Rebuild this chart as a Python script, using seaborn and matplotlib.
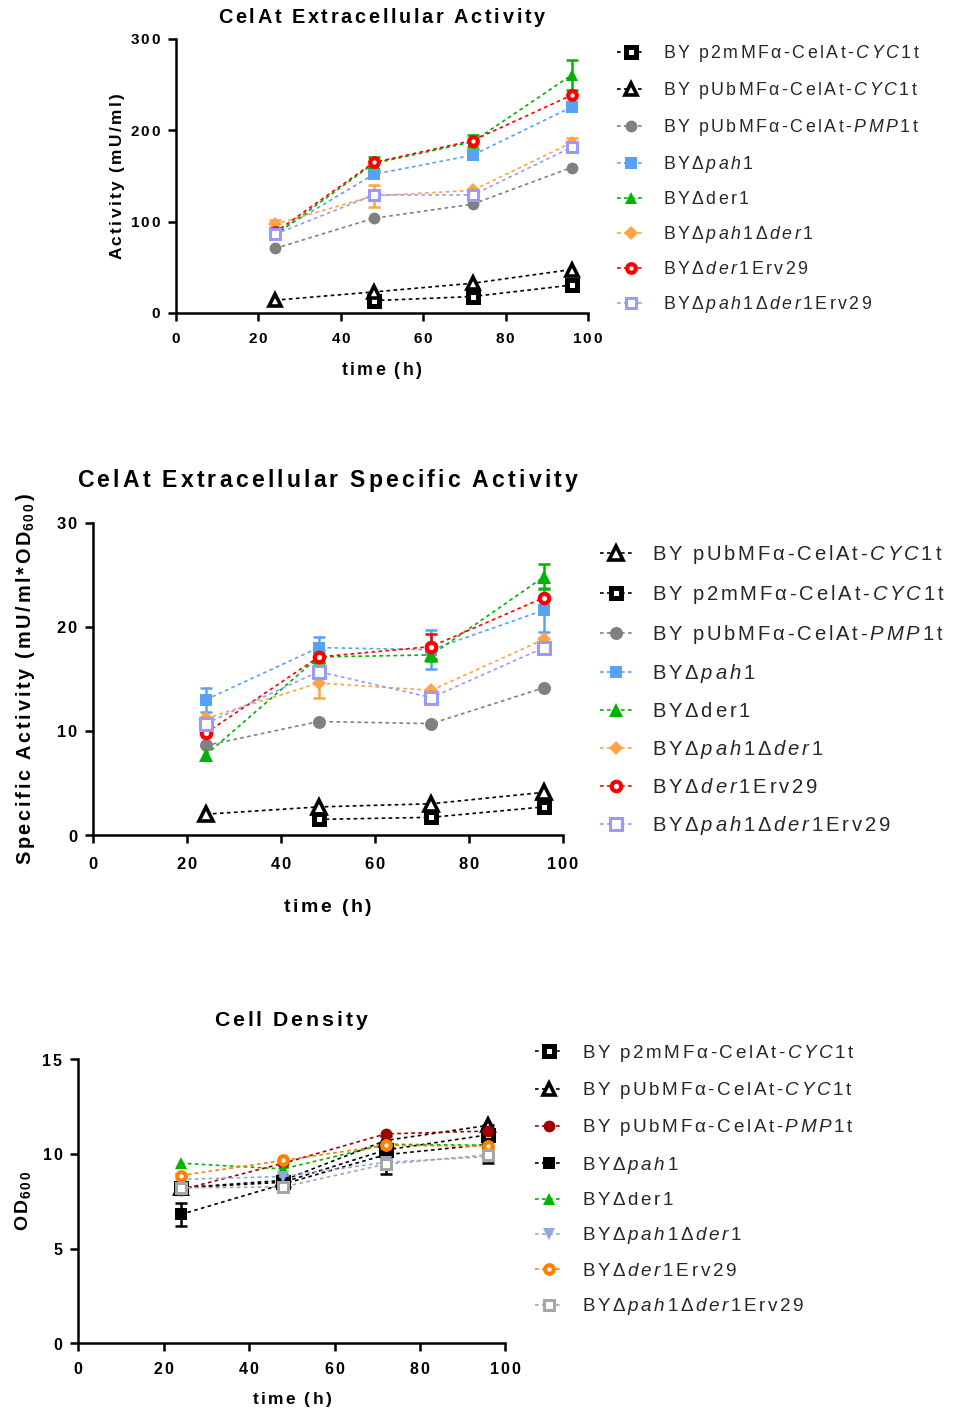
import numpy as np
import matplotlib
matplotlib.use("Agg")
import matplotlib.pyplot as plt
from matplotlib.ticker import FuncFormatter, FixedLocator
import seaborn as sns

# ---------------------------------------------------------------- data
TIME = [24, 48, 72, 96]
nan = np.nan

# Extracellular activity (mU/ml)
act_p2m_cyc1 = [nan, 13.5, 18.0, 30.5]
act_pub_cyc1 = [14.0, 23.0, 32.5, 47.5]
act_pub_pmp1 = [70.5, 103.5, 119.0, 159.0]
act_pah1 = [87.0, 151.5, 172.5, 225.0]
act_der1 = [85.0, 163.5, 187.0, 260.0]
act_pah1_der1 = [97.0, 128.0, 134.0, 186.0]
act_der1_erv29 = [88.0, 164.5, 188.5, 238.0]
act_pah1_der1_erv29 = [86.0, 129.0, 129.0, 181.0]
act_err_der1 = [nan, 7.0, 8.0, 16.0]
act_err_pah1_der1 = [5.0, 12.0, nan, 5.5]

# Specific activity (mU/ml*OD600)
sa_p2m_cyc1 = [nan, 1.5, 1.7, 2.7]
sa_pub_cyc1 = [2.0, 2.7, 3.0, 4.1]
sa_pub_pmp1 = [8.6, 10.9, 10.7, 14.15]
sa_pah1 = [13.0, 18.0, 17.8, 21.6]
sa_der1 = [7.7, 17.1, 17.3, 24.8]
sa_pah1_der1 = [11.2, 14.6, 13.9, 18.8]
sa_der1_erv29 = [9.8, 17.1, 18.1, 22.8]
sa_pah1_der1_erv29 = [10.7, 15.7, 13.2, 18.0]
sa_err_pah1 = [1.15, 1.0, 1.85, 2.1]
sa_err_der1 = [nan, 0.6, 0.6, 1.2]
sa_err_pah1_der1 = [nan, 1.45, nan, nan]
sa_err_der1_erv29 = [nan, nan, 1.2, nan]

# Cell density (OD600)
od_p2m_cyc1 = [8.2, 8.5, 10.2, 11.0]
od_pub_cyc1 = [8.2, 8.6, 10.7, 11.5]
od_pub_pmp1 = [8.1, 9.5, 11.05, 11.2]
od_pah1 = [6.8, 8.4, 9.95, 10.5]
od_der1 = [9.5, 9.2, 10.5, 10.45]
od_pah1_der1 = [8.65, 8.8, 9.55, 9.85]
od_der1_erv29 = [8.85, 9.65, 10.45, 10.4]
od_pah1_der1_erv29 = [8.2, 8.25, 9.45, 9.95]
od_err_pah1 = [0.6, 0.4, 1.0, 1.0]

X_TICKS = [0, 20, 40, 60, 80, 100]
Y_TICKS_ACT = [0, 100, 200, 300]
Y_TICKS_SA = [0, 10, 20, 30]
Y_TICKS_OD = [0, 5, 10, 15]

# ---------------------------------------------------------------- style
sns.set_theme(style="ticks")
plt.rcParams.update({
    "font.family": ["Liberation Sans", "DejaVu Sans"],
    "mathtext.fontset": "custom",
    "mathtext.rm": "Liberation Sans",
    "mathtext.it": "Liberation Sans:italic",
    "mathtext.bf": "Liberation Sans:bold",
    "mathtext.bfit": "Liberation Sans:bold:italic",
    "axes.linewidth": 1.8,
    "axes.edgecolor": "black",
    "xtick.color": "black",
    "ytick.color": "black",
    "xtick.major.width": 1.8,
    "ytick.major.width": 1.8,
    "xtick.major.size": 6,
    "ytick.major.size": 6,
    "xtick.direction": "out",
    "ytick.direction": "out",
})


def tracked(parts):
    """Letter-spaced mathtext body from (text, font) pieces."""
    toks = []
    for text, font in parts:
        for ch in text:
            if ch == " ":
                toks.append(r"\;")
            elif ch == "-":
                toks.append(r"\text{-}")
            elif ch in "*/":
                toks.append(r"\math%s{{%s}}" % (font, ch))
            else:
                toks.append(r"\math%s{%s}" % (font, ch))
    return r"\,".join(toks)


def m(*parts):
    return "$" + tracked(parts) + "$"


LABELS = {
    "p2m_cyc1": m(("BY p2mMFα-CelAt-", "rm"), ("CYC1", "it"), ("t", "rm")),
    "pub_cyc1": m(("BY pUbMFα-CelAt-", "rm"), ("CYC1", "it"), ("t", "rm")),
    "pub_pmp1": m(("BY pUbMFα-CelAt-", "rm"), ("PMP1", "it"), ("t", "rm")),
    "pah1": m(("BYΔ", "rm"), ("pah1", "it")),
    "der1": m(("BYΔder", "rm"), ("1", "it")),
    "pah1_der1": m(("BYΔ", "rm"), ("pah1", "it"), ("Δ", "rm"), ("der1", "it")),
    "der1_erv29": m(("BYΔ", "rm"), ("der1", "it"), ("Erv29", "rm")),
    "pah1_der1_erv29": m(("BYΔ", "rm"), ("pah1", "it"), ("Δ", "rm"),
                         ("der1", "it"), ("Erv29", "rm")),
}

BLUE, GREEN, ORANGE, RED, LAV, GREY = "#57A2F7", "#00B300", "#FFA445", "#FF0000", "#9999FF", "#808080"

STYLE_A = {
    "p2m_cyc1": dict(color="black", marker="s", ms=6.8, mfc="white", mec="black", mew=3.6),
    "pub_cyc1": dict(color="black", marker="^", ms=9.0, mfc="white", mec="black", mew=2.6),
    "pub_pmp1": dict(color=GREY, marker="o", ms=8.5, mfc=GREY, mec=GREY, mew=0),
    "pah1": dict(color=BLUE, marker="s", ms=8.3, mfc=BLUE, mec=BLUE, mew=0),
    "der1": dict(color=GREEN, marker="^", ms=9.0, mfc=GREEN, mec=GREEN, mew=0),
    "pah1_der1": dict(color=ORANGE, marker="D", ms=6.8, mfc=ORANGE, mec=ORANGE, mew=0),
    "der1_erv29": dict(color=RED, marker="o", ms=6.2, mfc="white", mec=RED, mew=3.0),
    "pah1_der1_erv29": dict(color=LAV, marker="s", ms=7.2, mfc="white", mec=LAV, mew=2.2),
}

STYLE_C = {
    "p2m_cyc1": dict(color="black", marker="s", ms=6.8, mfc="white", mec="black", mew=3.6),
    "pub_cyc1": dict(color="black", marker="^", ms=9.0, mfc="white", mec="black", mew=2.6),
    "pub_pmp1": dict(color="#A00000", marker="o", ms=8.5, mfc="#A00000", mec="#A00000", mew=0),
    "pah1": dict(color="black", marker="s", ms=8.0, mfc="black", mec="black", mew=0),
    "der1": dict(color="#00B400", marker="^", ms=9.0, mfc="#00B400", mec="#00B400", mew=0),
    "pah1_der1": dict(color="#8DAADB", marker="v", ms=9.0, mfc="#8DAADB", mec="#8DAADB", mew=0),
    "der1_erv29": dict(color="#FF8000", marker="o", ms=6.2, mfc="white", mec="#FF8000", mew=3.0),
    "pah1_der1_erv29": dict(color="#A6A6A6", marker="s", ms=7.2, mfc="white", mec="#A6A6A6", mew=2.2),
}

W, H = 955, 1412
fig = plt.figure(figsize=(W / 100, H / 100), dpi=100)


def px_rect(left, top, right, bottom):
    return [left / W, 1 - bottom / H, (right - left) / W, (bottom - top) / H]


def tick_fmt(v, _pos):
    return m(("%g" % v, "bf"))


def panel(ax, series, errors, styles, order, yticks, title, title_fs, title_pad,
          ylabel, ylab_fs, xlab_fs, tick_fs, xtick_pad, ylab_x, xlab_y,
          leg_xy, leg_fs, leg_kw, scale=1.0):
    handles = []
    for key in order:
        st = styles[key]
        if key in errors:
            ax.errorbar(TIME, series[key], yerr=errors[key], fmt="none",
                        ecolor=st["color"], elinewidth=1.8, capsize=4.2 * scale,
                        capthick=1.8, zorder=2)
        sns.lineplot(x=TIME, y=series[key], ax=ax, errorbar=None,
                     color=st["color"], marker=st["marker"],
                     markersize=st["ms"] * scale, markerfacecolor=st["mfc"],
                     markeredgecolor=st["mec"], markeredgewidth=st["mew"],
                     linestyle=(0, (2.2, 2.0)), linewidth=1.2, zorder=3)
        line = ax.lines[-1]
        line.set_clip_on(False)
        handles.append(line)

    ax.set_xlim(0, 100)
    ax.set_ylim(yticks[0], yticks[-1])
    ax.xaxis.set_major_locator(FixedLocator(X_TICKS))
    ax.yaxis.set_major_locator(FixedLocator(yticks))
    ax.xaxis.set_major_formatter(FuncFormatter(tick_fmt))
    ax.yaxis.set_major_formatter(FuncFormatter(tick_fmt))
    ax.tick_params(axis="y", labelsize=tick_fs, pad=5)
    ax.tick_params(axis="x", labelsize=tick_fs, pad=xtick_pad)
    sns.despine(ax=ax)
    ax.set_facecolor("none")

    ax.set_title(title, fontsize=title_fs, pad=title_pad, color="black")
    ax.set_xlabel(m(("time (h)", "bf")), fontsize=xlab_fs, color="black")
    ax.set_ylabel(ylabel, fontsize=ylab_fs, color="black")
    ax.xaxis.set_label_coords(0.5, xlab_y)
    ax.yaxis.set_label_coords(ylab_x, 0.5)

    ax.legend(handles, [LABELS[k] for k in order], loc="upper left",
              bbox_to_anchor=(leg_xy[0] / W, 1 - leg_xy[1] / H),
              bbox_transform=fig.transFigure, frameon=False, numpoints=1,
              fontsize=leg_fs, borderpad=0, borderaxespad=0, **leg_kw)


ORDER_A = ["p2m_cyc1", "pub_cyc1", "pub_pmp1", "pah1", "der1",
           "pah1_der1", "der1_erv29", "pah1_der1_erv29"]
ORDER_B = ["pub_cyc1", "p2m_cyc1", "pub_pmp1", "pah1", "der1",
           "pah1_der1", "der1_erv29", "pah1_der1_erv29"]

act = dict(p2m_cyc1=act_p2m_cyc1, pub_cyc1=act_pub_cyc1, pub_pmp1=act_pub_pmp1,
           pah1=act_pah1, der1=act_der1, pah1_der1=act_pah1_der1,
           der1_erv29=act_der1_erv29, pah1_der1_erv29=act_pah1_der1_erv29)
sa = dict(p2m_cyc1=sa_p2m_cyc1, pub_cyc1=sa_pub_cyc1, pub_pmp1=sa_pub_pmp1,
          pah1=sa_pah1, der1=sa_der1, pah1_der1=sa_pah1_der1,
          der1_erv29=sa_der1_erv29, pah1_der1_erv29=sa_pah1_der1_erv29)
od = dict(p2m_cyc1=od_p2m_cyc1, pub_cyc1=od_pub_cyc1, pub_pmp1=od_pub_pmp1,
          pah1=od_pah1, der1=od_der1, pah1_der1=od_pah1_der1,
          der1_erv29=od_der1_erv29, pah1_der1_erv29=od_pah1_der1_erv29)

ax1 = fig.add_axes(px_rect(176, 38.5, 588, 313))
panel(ax1, act, {"der1": act_err_der1, "pah1_der1": act_err_pah1_der1},
      STYLE_A, ORDER_A, Y_TICKS_ACT,
      m(("CelAt Extracellular Activity", "bf")), 14.3, 11,
      m(("Activity (mU/ml)", "bf")), 12.4, 12.8, 11, 8, -0.12, -0.17,
      (617, 43), 12.8, dict(handlelength=1.6, handletextpad=1.0, labelspacing=0.9))

ax2 = fig.add_axes(px_rect(93.3, 522.7, 562.7, 835))
sa_label = ("$" + tracked([("Specific Activity (mU/ml*OD", "bf")]) + r"_{" +
            tracked([("600", "bf")]) + r"}\,\mathbf{)}$")
panel(ax2, sa, {"pah1": sa_err_pah1, "der1": sa_err_der1,
                "pah1_der1": sa_err_pah1_der1, "der1_erv29": sa_err_der1_erv29},
      STYLE_A, ORDER_B, Y_TICKS_SA,
      m(("CelAt Extracellular Specific Activity", "bf")), 16.6, 26,
      sa_label, 14.3, 14, 11.9, 9, -0.121, -0.20,
      (600, 543), 14.6, dict(handlelength=1.58, handletextpad=0.97, labelspacing=0.83),
      scale=1.1)

ax3 = fig.add_axes(px_rect(78.3, 1059, 505.3, 1343.3))
od_label = "$" + tracked([("OD", "bf")]) + r"_{" + tracked([("600", "bf")]) + "}$"
panel(ax3, od, {"pah1": od_err_pah1}, STYLE_C, ORDER_A, Y_TICKS_OD,
      m(("Cell Density", "bf")), 15.3, 24,
      od_label, 14, 12.5, 11.5, 7, -0.106, -0.165,
      (535, 1043), 13.6, dict(handlelength=1.5, handletextpad=1.0, labelspacing=0.86))

fig.savefig("out.png", dpi=100)
